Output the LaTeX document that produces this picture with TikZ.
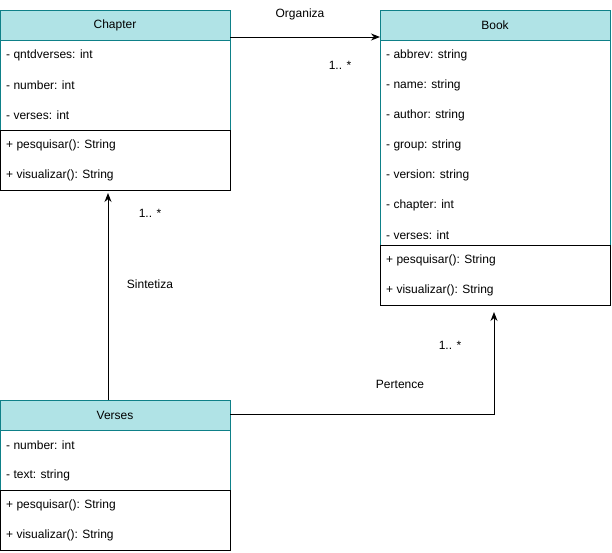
\documentclass[tikz,border=0pt]{standalone}
\usepackage{fontspec}
\setmainfont{Liberation Sans}
\usetikzlibrary{arrows.meta,calc}
\definecolor{hdfill}{HTML}{B0E3E6}
\definecolor{hdline}{HTML}{0E8088}
\tikzset{
  hdr/.style={draw=hdline, fill=hdfill, line width=1pt, minimum width=230pt, minimum height=30pt, inner sep=0pt, outer sep=0pt, font=\fontsize{12}{14}\selectfont},
  attrbox/.style={draw=hdline, line width=1pt, minimum width=230pt, inner sep=0pt, outer sep=0pt},
  methbox/.style={draw=black, line width=1pt, minimum width=230pt, inner sep=0pt, outer sep=0pt},
  member/.style={anchor=west, inner sep=0pt, font=\fontsize{12}{14}\selectfont},
  lbl/.style={inner sep=0pt, font=\fontsize{12}{14}\selectfont},
  conn/.style={draw=black, line width=1pt, -{Stealth[length=9pt,width=7pt]}},
}
\begin{document}
\begin{tikzpicture}[x=1pt,y=-1pt]
\useasboundingbox (0,0) rectangle (612,552);
% Chapter
\node[attrbox, minimum height=90pt] (chA) at (115,85) {};
\node[hdr] (chH) at (115,25) {Chapter};
\node[methbox, minimum height=60pt] (chM) at (115,160) {};
\node[member] (c1) at (6,55) {- qntdverses: int};
\node[member] (c2) at (6,85) {- number: int};
\node[member] (c3) at (6,115) {- verses: int};
\node[member] (c4) at (6,145) {+ pesquisar(): String};
\node[member] (c5) at (6,175) {+ visualizar(): String};
% Book
\node[attrbox, minimum height=205pt] (bkA) at (495,142.5) {};
\node[hdr] (bkH) at (495,25) {Book};
\node[methbox, minimum height=60pt] (bkM) at (495,275) {};
\node[member] (b1) at (386,55) {- abbrev: string};
\node[member] (b2) at (386,85) {- name: string};
\node[member] (b3) at (386,115) {- author: string};
\node[member] (b4) at (386,145) {- group: string};
\node[member] (b5) at (386,175) {- version: string};
\node[member] (b6) at (386,205) {- chapter: int};
\node[member] (b7) at (386,235) {- verses: int};
\node[member] (b8) at (386,260) {+ pesquisar(): String};
\node[member] (b9) at (386,290) {+ visualizar(): String};
% Verses
\node[attrbox, minimum height=60pt] (vsA) at (115,460) {};
\node[hdr] (vsH) at (115,415) {Verses};
\node[methbox, minimum height=60pt] (vsM) at (115,520) {};
\node[member] (v1) at (6,445) {- number: int};
\node[member] (v2) at (6,475) {- text: string};
\node[member] (v3) at (6,505) {+ pesquisar(): String};
\node[member] (v4) at (6,535) {+ visualizar(): String};
% connectors
\coordinate (o1) at ($(chH.south east)+(0,-3)$);
\coordinate (o2) at ($(bkH.south west)+(0,-3)$);
\draw[conn] (o1) -- (o2);
\coordinate (s1) at ($(vsH.north west)+(108,0)$);
\coordinate (s2) at ($(chM.south west)+(108,3)$);
\draw[conn] (s1) -- (s2);
\coordinate (p1) at ($(vsH.east)+(0,-1)$);
\coordinate (p2) at ($(bkM.south west)+(114,7)$);
\draw[conn] (p1) -| (p2);
% labels
\node[lbl] (lo) at (300,14) {Organiza};
\node[lbl] (lo2) at (340,65) {1.. *};
\node[lbl] (ls) at (150,284) {Sintetiza};
\node[lbl] (ls2) at (150,213) {1.. *};
\node[lbl] (lp) at (400,384) {Pertence};
\node[lbl] (lp2) at (450,345) {1.. *};
\end{tikzpicture}
\end{document}
